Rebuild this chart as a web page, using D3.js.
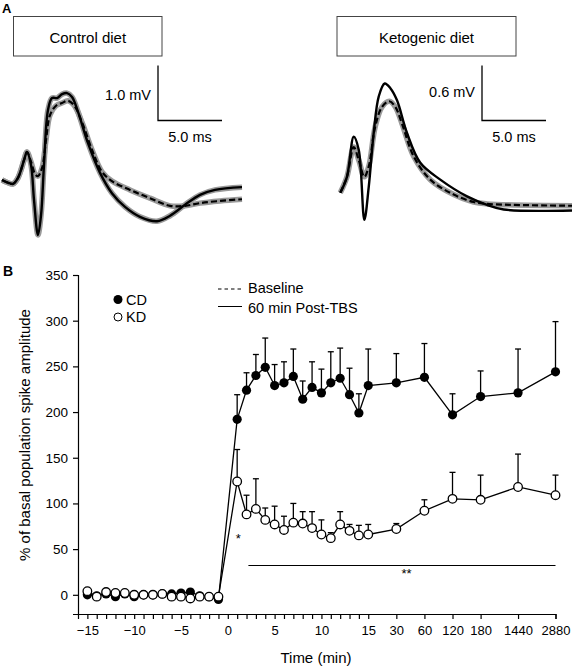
<!DOCTYPE html>
<html><head><meta charset="utf-8">
<script src="https://cdn.jsdelivr.net/npm/d3@7"></script>
<style>
html,body{margin:0;padding:0;background:#fff;}
svg{display:block;font-family:"Liberation Sans",Arial,sans-serif;}
</style></head>
<body>
<svg id="chart" width="574" height="667"></svg>
<script>
// ---------- Panel A traces: [time (ms), amplitude (mV)] ----------
const ctrlBaseline = [[0,0],[0.47,-0.05],[0.86,-0.07],[1.25,0.04],[1.72,0.36],[1.95,0.51],[2.27,0.33],[2.58,0.11],[2.81,0.07],[3.13,0.22],[3.44,0.73],[3.75,1.18],[4.22,1.35],[4.69,1.40],[5.16,1.44],[5.63,1.36],[6.25,1.05],[7.03,0.55],[7.81,0.15],[8.59,-0.02],[10.0,-0.18],[11.56,-0.33],[13.13,-0.47],[14.3,-0.47],[15.47,-0.42],[17.03,-0.38],[18.75,-0.35]];
const ctrlPost = [[0,0],[0.47,-0.05],[0.86,-0.07],[1.25,0.04],[1.72,0.36],[1.95,0.51],[2.27,0.27],[2.5,-0.36],[2.81,-1.0],[3.05,-0.64],[3.28,0.27],[3.59,1.27],[3.91,1.49],[4.30,1.49],[4.69,1.56],[5.08,1.58],[5.47,1.51],[5.94,1.24],[6.72,0.67],[7.66,0.13],[8.59,-0.24],[9.61,-0.49],[10.78,-0.67],[12.11,-0.75],[13.13,-0.65],[14.3,-0.45],[15.47,-0.27],[16.64,-0.18],[18.75,-0.13]];
const ketoBaseline = [[0,0],[0.52,0.17],[1.05,0.49],[1.44,0.35],[1.88,0.17],[2.22,0.28],[2.73,0.71],[3.26,0.92],[3.83,0.98],[4.3,0.92],[4.82,0.74],[5.73,0.39],[7.03,0.14],[8.86,-0.02],[10.42,-0.10],[11.46,-0.12],[18.1,-0.14]];
const ketoPost = [[0,0],[0.52,0.17],[1.05,0.60],[1.44,0.46],[1.88,-0.29],[2.22,0.06],[2.61,0.64],[3.0,1.03],[3.47,1.17],[3.91,1.12],[4.43,0.99],[5.21,0.64],[6.25,0.32],[7.81,0.14],[9.9,-0.04],[11.46,-0.13],[12.77,-0.18],[18.1,-0.19]];

// ---------- Panel B data ----------
const baseTimes = [-15,-14,-13,-12,-11,-10,-9,-8,-7,-6,-5,-4,-3,-2,-1];
const postTimes = [1,2,3,4,5,6,7,8,9,10,11,12,13,14,15,30,60,120,180,1440,2880];
// axis slot for the compressed late time points
const lateTimes = [30,60,120,180,1440,2880];
const lateSlots = [18,21,24,27,31,35];
const tickLabelTimes = [-15,-10,-5,0,5,10,15,30,60,120,180,1440,2880];

const cdBase = [0,-1,1,-2,1,-2,0,0,1,1,2,3,-1,-2,-5];
const kdBase = [4,-2,3,2,2,0,0,0,1,-2,-2,-4,-2,-2,-2];
const cdPost = [192,224,240,249,229,232,239,214,227,221,232,237,219,199,229,232,238,197,217,221,244];
const cdPostErr = [219,243,263,281,252,255,269,234,255,247,266,270,248,220,269,264,275,220,245,269,299];
const kdPost = [124,88,94,82,77,71,79,78,73,66,62,77,70,65,66,72,92,105,104,118,109];
const kdPostErr = [159,109,127,95,97,86,100,91,91,82,68,91,77,76,77,78,104,134,131,154,131];
const yTicks = [0,50,100,150,200,250,300,350];

const svg = d3.select("#chart");
const font = '"Liberation Sans",Arial,sans-serif';

// ---------- Panel A ----------
svg.append("text").attr("x",2).attr("y",13).attr("font-size",13).attr("font-weight","bold").text("A");

function drawPanel(opts){
  const g = svg.append("g");
  g.append("rect").attr("x",opts.box[0]).attr("y",16.5).attr("width",opts.box[1]-opts.box[0]).attr("height",39.5)
    .attr("fill","none").attr("stroke","#444").attr("stroke-width",1);
  g.append("text").attr("x",(opts.box[0]+opts.box[1])/2).attr("y",38).attr("dy","0.35em")
    .attr("text-anchor","middle").attr("font-size",15).text(opts.title);
  const sx = opts.sbx;
  g.append("path").attr("d",`M${sx},65.5V120.5H${sx+64}`).attr("fill","none").attr("stroke","#000").attr("stroke-width",1.3);
  g.append("text").attr("x",sx-7).attr("y",opts.mvY).attr("dy","0.35em").attr("text-anchor","end").attr("font-size",14.5).text(opts.mv);
  g.append("text").attr("x",sx+32).attr("y",137).attr("dy","0.35em").attr("text-anchor","middle").attr("font-size",14.5).text("5.0 ms");

  const x = d3.scaleLinear().domain(opts.tdom).range(opts.xr);
  const y = d3.scaleLinear().domain([0,1]).range([opts.y0, opts.y0-opts.pxPerMv]);
  const line = d3.line().x(d=>x(d[0])).y(d=>y(d[1])).curve(d3.curveCatmullRom.alpha(0.5));
  // halos
  g.append("path").attr("d",line(opts.base)).attr("fill","none").attr("stroke","#9a9a9a").attr("stroke-width",5.5).attr("stroke-linejoin","round");
  if(opts.postHalo) g.append("path").attr("d",line(opts.post)).attr("fill","none").attr("stroke","#9a9a9a").attr("stroke-width",5.5).attr("stroke-linejoin","round");
  g.append("path").attr("d",line(opts.base)).attr("fill","none").attr("stroke","#000").attr("stroke-width",2.2).attr("stroke-dasharray","6,3");
  g.append("path").attr("d",line(opts.post)).attr("fill","none").attr("stroke","#000").attr("stroke-width",2.4).attr("stroke-linejoin","round");
}
drawPanel({box:[13.5,162],title:"Control diet",sbx:158,mv:"1.0 mV",mvY:95,tdom:[0,18.75],xr:[2,242],y0:180,pxPerMv:55,base:ctrlBaseline,post:ctrlPost,postHalo:true});
drawPanel({box:[337,516],title:"Ketogenic diet",sbx:482,mv:"0.6 mV",mvY:92,tdom:[0,18.1],xr:[340.3,572],y0:192.7,pxPerMv:93.3,base:ketoBaseline,post:ketoPost,postHalo:false});

// ---------- Panel B ----------
svg.append("text").attr("x",3).attr("y",276).attr("font-size",14).attr("font-weight","bold").text("B");

const slot = t => { const i = lateTimes.indexOf(t); return i>=0 ? lateSlots[i] : t; };
const x = d3.scaleLinear().domain([-16,35]).range([78,555.5]);
const y = d3.scaleLinear().domain([-21,350]).range([614,275]);

const allTickSlots = d3.range(-15,16).concat(lateSlots);
const labelSlots = tickLabelTimes.map(slot);
const fmt = s => { if(labelSlots.indexOf(s)<0) return ""; const t = tickLabelTimes[labelSlots.indexOf(s)]; return t<0 ? "\u2212"+Math.abs(t) : String(t); };

const xAxis = svg.append("g").attr("transform","translate(0,614)")
  .call(d3.axisBottom(x).tickValues(allTickSlots).tickFormat(fmt).tickSizeOuter(0).tickSize(5).tickPadding(7));
xAxis.selectAll("text").attr("font-size",13).attr("font-family",font).attr("fill","#000");
xAxis.selectAll("line,path").attr("stroke","#000").attr("stroke-width",1.2);

const yAxis = svg.append("g").attr("transform","translate(78,0)")
  .call(d3.axisLeft(y).tickValues(yTicks).tickSizeOuter(0).tickSize(5).tickPadding(5));
yAxis.selectAll("text").attr("font-size",13.5).attr("font-family",font).attr("fill","#000");
yAxis.selectAll("line,path").attr("stroke","#000").attr("stroke-width",1.2);

svg.append("text").attr("transform","translate(25,435) rotate(-90)").attr("dy","0.35em").attr("text-anchor","middle")
  .attr("font-size",15).text("% of basal population spike amplitude");
svg.append("text").attr("x",316).attr("y",658).attr("dy","0.35em").attr("text-anchor","middle").attr("font-size",15).text("Time (min)");

// build series
const cd = baseTimes.map((t,i)=>({t, v:cdBase[i], e:null})).concat(postTimes.map((t,i)=>({t, v:cdPost[i], e:cdPostErr[i]})));
const kd = baseTimes.map((t,i)=>({t, v:kdBase[i], e:null})).concat(postTimes.map((t,i)=>({t, v:kdPost[i], e:kdPostErr[i]})));
const line = d3.line().x(d=>x(slot(d.t))).y(d=>y(d.v));

[cd,kd].forEach(s=>{
  svg.append("path").attr("d",line(s)).attr("fill","none").attr("stroke","#000").attr("stroke-width",1.3);
});
[cd,kd].forEach(s=>{
  const eg = svg.append("g").attr("stroke","#000").attr("stroke-width",1.3);
  s.filter(d=>d.e!==null).forEach(d=>{
    const cx = x(slot(d.t));
    eg.append("line").attr("x1",cx).attr("x2",cx).attr("y1",y(d.v)).attr("y2",y(d.e));
    eg.append("line").attr("x1",cx-3).attr("x2",cx+3).attr("y1",y(d.e)).attr("y2",y(d.e));
  });
});
svg.append("g").selectAll("circle").data(cd).join("circle")
  .attr("cx",d=>x(slot(d.t))).attr("cy",d=>y(d.v)).attr("r",4.6).attr("fill","#000");
svg.append("g").selectAll("circle").data(kd).join("circle")
  .attr("cx",d=>x(slot(d.t))).attr("cy",d=>y(d.v)).attr("r",4.3).attr("fill","#fff").attr("stroke","#000").attr("stroke-width",1.3);

// significance
svg.append("text").attr("x",x(1)+1).attr("y",543).attr("text-anchor","middle").attr("font-size",13).text("*");
svg.append("line").attr("x1",x(2.2)).attr("x2",x(35)).attr("y1",565.5).attr("y2",565.5).attr("stroke","#000").attr("stroke-width",1.2);
svg.append("text").attr("x",406.5).attr("y",578).attr("text-anchor","middle").attr("font-size",13).text("**");

// legend
svg.append("circle").attr("cx",118).attr("cy",299.5).attr("r",4.5).attr("fill","#000");
svg.append("text").attr("x",126).attr("y",299.5).attr("dy","0.35em").attr("font-size",14.5).text("CD");
svg.append("circle").attr("cx",118).attr("cy",317).attr("r",4).attr("fill","#fff").attr("stroke","#000").attr("stroke-width",1);
svg.append("text").attr("x",126).attr("y",317).attr("dy","0.35em").attr("font-size",14.5).text("KD");
svg.append("line").attr("x1",218).attr("x2",242).attr("y1",289).attr("y2",289).attr("stroke","#000").attr("stroke-width",1).attr("stroke-dasharray","3.5,3");
svg.append("text").attr("x",248).attr("y",288).attr("dy","0.35em").attr("font-size",14.5).text("Baseline");
svg.append("line").attr("x1",218).attr("x2",242).attr("y1",306.5).attr("y2",306.5).attr("stroke","#000").attr("stroke-width",1);
svg.append("text").attr("x",248).attr("y",308).attr("dy","0.35em").attr("font-size",14.5).text("60 min Post-TBS");
</script>
</body></html>
